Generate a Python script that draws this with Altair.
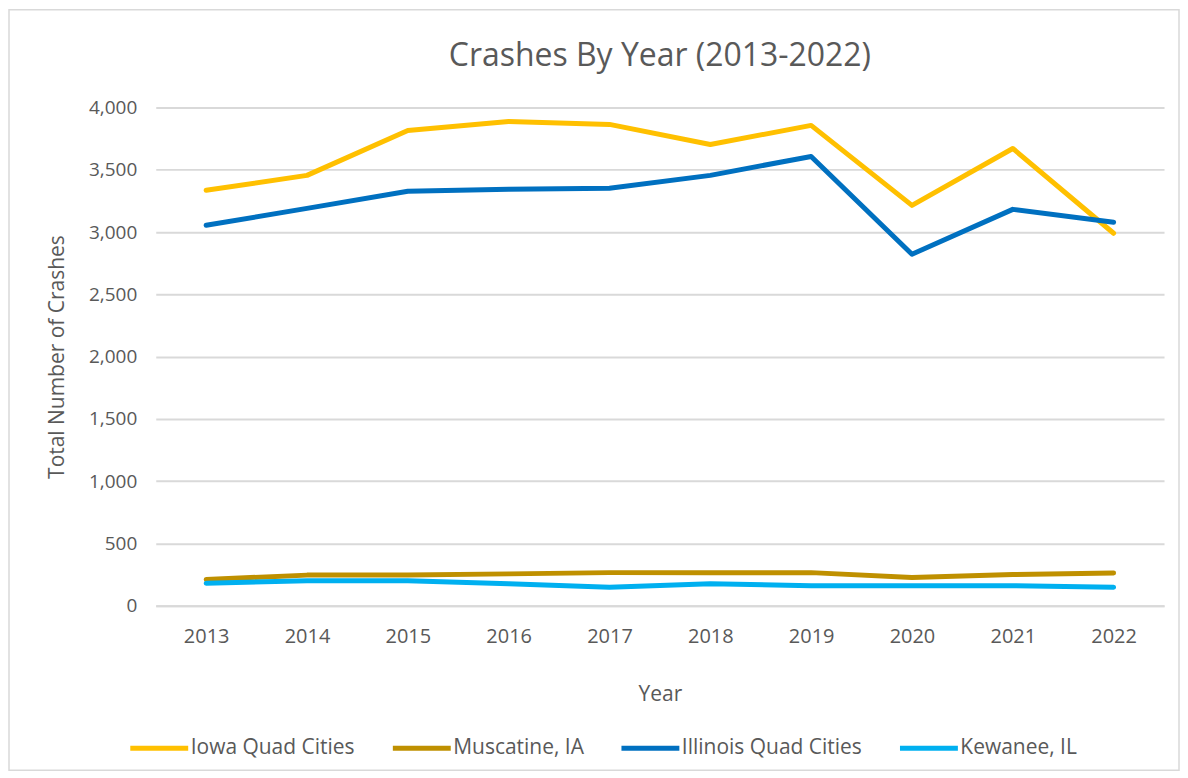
import altair as alt
import pandas as pd

years = ["2013", "2014", "2015", "2016", "2017", "2018", "2019", "2020", "2021", "2022"]
iowa = [3335, 3455, 3815, 3888, 3864, 3703, 3856, 3214, 3671, 2990]
muscatine = [210, 245, 245, 255, 265, 265, 265, 226, 250, 262]
illinois = [3054, 3190, 3327, 3343, 3351, 3455, 3607, 2822, 3182, 3078]
kewanee = [180, 200, 200, 175, 147, 175, 160, 160, 160, 147]

series = ["Iowa Quad Cities", "Muscatine, IA", "Illinois Quad Cities", "Kewanee, IL"]
colors = ["#FFC000", "#BF9000", "#0070C0", "#00B0F0"]

rows = []
for name, vals in zip(series, [iowa, muscatine, illinois, kewanee]):
    for y, v in zip(years, vals):
        rows.append({"Year": y, "Crashes": v, "Series": name})
df = pd.DataFrame(rows)

FONT = "Open Sans"
GRAY = "#595959"

lines = alt.Chart(df).mark_line(strokeWidth=5, strokeCap="round", strokeJoin="round").encode(
    x=alt.X("Year:O", scale=alt.Scale(type="point", padding=0.5),
            axis=alt.Axis(title="Year", labelAngle=0, ticks=False, domain=True,
                          domainColor="#D9D9D9", domainWidth=2,
                          labelPadding=21, titlePadding=37)),
    y=alt.Y("Crashes:Q", scale=alt.Scale(domain=[0, 4000]),
            axis=alt.Axis(title="Total Number of Crashes", values=list(range(0, 4001, 500)),
                          format=",d", ticks=False, domain=False, labelPadding=19,
                          titlePadding=21, gridColor="#D9D9D9", gridWidth=2)),
    color=alt.Color("Series:N", sort=series,
                    scale=alt.Scale(domain=series, range=colors),
                    legend=alt.Legend(title=None, orient="none", direction="horizontal",
                                      legendX=-28, legendY=610,
                                      symbolType="M-1,0H1", symbolSize=3364,
                                      symbolStrokeWidth=5, labelOffset=0,
                                      columnPadding=27, labelFontSize=21,
                                      labelLimit=400,
                                      labelColor=GRAY, labelFont=FONT)),
    order=alt.Order("Year:O"),
)

border = alt.Chart(pd.DataFrame({"a": [0]})).mark_rect(
    fillOpacity=0, stroke="#D9D9D9", strokeWidth=1.5, clip=False
).encode(x=alt.value(-147), x2=alt.value(1025), y=alt.value(-98), y2=alt.value(664))

chart = alt.layer(border, lines).properties(
    width=1010, height=499,
    title=alt.Title("Crashes By Year (2013-2022)", fontSize=32, font=FONT,
                    color=GRAY, fontWeight="normal", offset=-64),
    padding=0,
).configure_view(stroke=None).configure_axis(
    labelFont=FONT, titleFont=FONT, labelFontSize=20, titleFontSize=21,
    labelColor=GRAY, titleColor=GRAY, titleFontWeight="normal"
).configure_axisY(labelFontSize=19)

chart.save("out.html", embed_options={"renderer": "svg", "actions": False})
